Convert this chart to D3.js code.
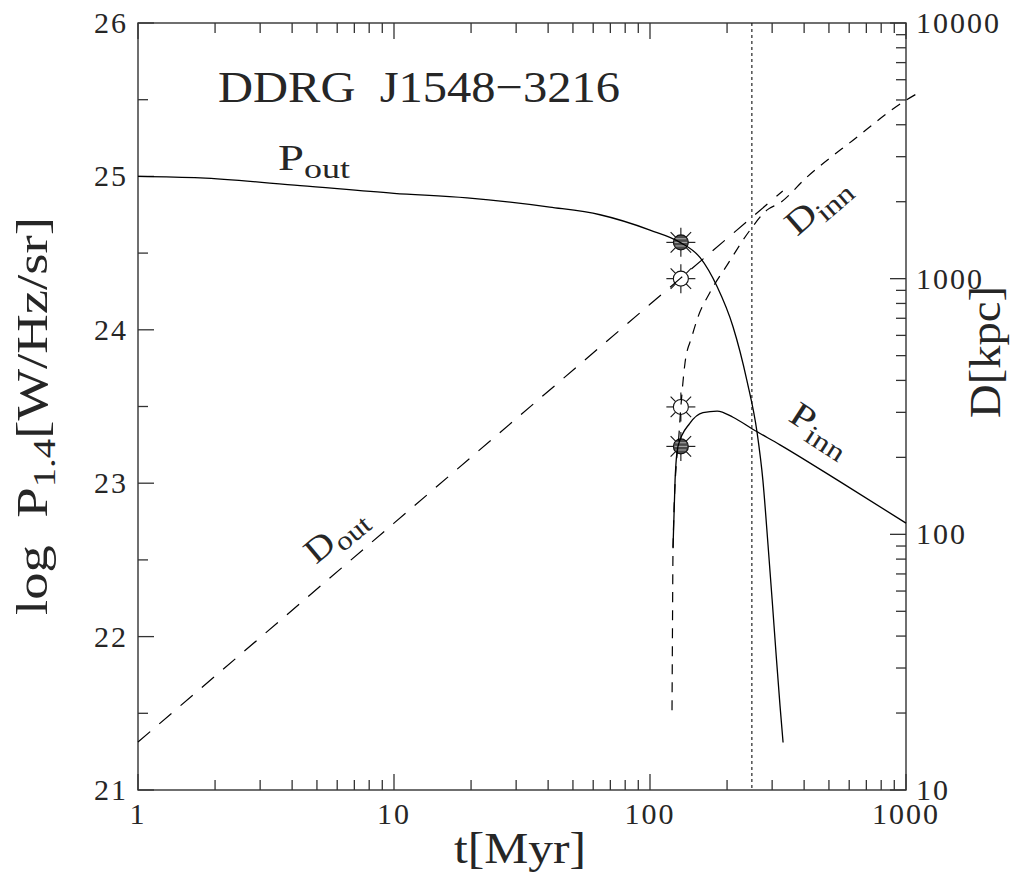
<!DOCTYPE html>
<html>
<head>
<meta charset="utf-8">
<script src="https://cdn.jsdelivr.net/npm/d3@7"></script>
<style>
  body { margin: 0; background: #fff; }
  text { font-family: "Liberation Serif", "Times New Roman", serif; fill: #262626; }
</style>
</head>
<body>
<svg id="chart" width="1013" height="872"></svg>
<script>

// values: t in Myr, P as log P_1.4 [W/Hz/sr], D in kpc
var p_out = [[1,25.0],[1.75,24.99],[4.3,24.94],[10,24.89],[19.3,24.86],[40.6,24.80],[63.8,24.75],
             [100,24.65],[131,24.57],[157,24.47],[183,24.28],[211,24.02],[239,23.67],[262,23.33],
             [276,23.02],[289,22.60],[300,22.24],[311,21.88],[322,21.55],[331,21.31]];

var p_inn = [[123,22.58],[125.3,23.02],[128.6,23.24],[143,23.39],[161,23.46],[183,23.47],
             [211,23.43],[253,23.35],[322,23.25],[552,23.01],[1000,22.74]];

var d_out = [[1,15.4],[10,110.6],[100,794],[131,1000],[330,2204]];

var d_inn = [[121.9,20.5],[122.4,42.3],[123,87],[127,195],[129,227],[132,315],[137,468],
             [145.6,591],[154,708],[171,879],[200,1130],[246,1549],[286,1854],[322,1980],
             [410,2495],[621,3480],[1000,4990],[1114,5320]];

// [t, value, which axis, filled]
var markers = [[132,24.57,'P',true],[132,1000,'D',false],[132,315,'D',false],[132,23.24,'P',true]];

var t_break = 250;

var p_ticks = [21,22,23,24,25,26];
var d_labels = [10,100,1000,10000];
var t_labels = [1,10,100,1000];

var svg = d3.select('#chart');

var margin = {left: 138, right: 906, top: 23, bottom: 790};

var x = d3.scaleLog().domain([1,1000]).range([margin.left, margin.right]);
var y_p = d3.scaleLinear().domain([21,26]).range([margin.bottom, margin.top]);
var y_d = d3.scaleLog().domain([10,10000]).range([margin.bottom, margin.top]);

var is_decade = v => Math.abs(Math.log10(v) - Math.round(Math.log10(v))) < 1e-9;
var major_len = 16, minor_len = 10;
var axis_col = '#333';

// frame
svg.append('rect')
   .attr('x', margin.left).attr('y', margin.top)
   .attr('width', margin.right - margin.left).attr('height', margin.bottom - margin.top)
   .attr('fill', 'none').attr('stroke', axis_col).attr('stroke-width', 1.4);

var ticks = svg.append('g').attr('stroke', axis_col).attr('stroke-width', 1.3);

// bottom + top ticks (time)
x.ticks().forEach(t => {
  var len = is_decade(t) ? major_len : minor_len;
  ticks.append('line').attr('x1', x(t)).attr('x2', x(t))
       .attr('y1', margin.bottom).attr('y2', margin.bottom - len);
  ticks.append('line').attr('x1', x(t)).attr('x2', x(t))
       .attr('y1', margin.top).attr('y2', margin.top + len);
});

// left ticks (power)
d3.range(21, 26.001, 0.5).forEach(p => {
  var len = (p % 1 == 0) ? major_len : minor_len;
  ticks.append('line').attr('x1', margin.left).attr('x2', margin.left + len)
       .attr('y1', y_p(p)).attr('y2', y_p(p));
});

// right ticks (size)
y_d.ticks().forEach(d => {
  var len = is_decade(d) ? major_len : minor_len;
  ticks.append('line').attr('x1', margin.right).attr('x2', margin.right - len)
       .attr('y1', y_d(d)).attr('y2', y_d(d));
});

// tick labels
svg.append('g').selectAll('text').data(t_labels).enter().append('text')
   .attr('x', d => x(d)).attr('y', 824)
   .attr('text-anchor', 'middle').attr('font-size', 30).attr('letter-spacing', 2)
   .text(d => d);

svg.append('g').selectAll('text').data(p_ticks).enter().append('text')
   .attr('x', 128).attr('y', d => y_p(d) + 10)
   .attr('text-anchor', 'end').attr('font-size', 30).attr('letter-spacing', 2)
   .text(d => d);

svg.append('g').selectAll('text').data(d_labels).enter().append('text')
   .attr('x', 916).attr('y', d => y_d(d) + 10)
   .attr('font-size', 30).attr('letter-spacing', 2)
   .text(d => d);

// vertical dotted line
svg.append('line')
   .attr('x1', x(t_break)).attr('x2', x(t_break))
   .attr('y1', margin.top).attr('y2', margin.bottom)
   .attr('stroke', '#111').attr('stroke-width', 1.1).attr('stroke-dasharray', '3,3');

// markers (drawn first, curves go over them)
markers.forEach(m => {
  var cy = (m[2] == 'P') ? y_p(m[1]) : y_d(m[1]);
  var g = svg.append('g').attr('transform', 'translate(' + x(m[0]) + ',' + cy + ')');
  for (var k = 0; k < 8; k++) {
    var a = k * Math.PI / 4;
    g.append('line')
     .attr('x1', 7.5 * Math.cos(a)).attr('y1', 7.5 * Math.sin(a))
     .attr('x2', 14.5 * Math.cos(a)).attr('y2', 14.5 * Math.sin(a))
     .attr('stroke', '#111').attr('stroke-width', 1.1);
  }
  g.append('circle').attr('r', 7.5)
   .attr('fill', m[3] ? '#4a4a4a' : '#fff')
   .attr('stroke', '#111').attr('stroke-width', 1.1);
  if (m[3]) {
    [-3.6, 0, 3.6].forEach(dy => {
      var hw = Math.sqrt(7.5 * 7.5 - dy * dy) - 1.2;
      g.append('line').attr('x1', -hw).attr('x2', hw).attr('y1', dy).attr('y2', dy)
       .attr('stroke', '#b0b0b0').attr('stroke-width', 1);
    });
  }
});

// curves
var line_p = d3.line().x(d => x(d[0])).y(d => y_p(d[1])).curve(d3.curveMonotoneX);
var line_d = d3.line().x(d => x(d[0])).y(d => y_d(d[1])).curve(d3.curveMonotoneX);

svg.append('path').datum(p_out).attr('d', line_p)
   .attr('fill', 'none').attr('stroke', '#000').attr('stroke-width', 1.3);
svg.append('path').datum(p_inn).attr('d', line_p)
   .attr('fill', 'none').attr('stroke', '#000').attr('stroke-width', 1.3);
svg.append('path').datum(d_out).attr('d', line_d.curve(d3.curveLinear))
   .attr('fill', 'none').attr('stroke', '#000').attr('stroke-width', 1.2)
   .attr('stroke-dasharray', '16,12');
svg.append('path').datum(d_inn).attr('d', line_d.curve(d3.curveMonotoneX))
   .attr('fill', 'none').attr('stroke', '#000').attr('stroke-width', 1.2)
   .attr('stroke-dasharray', '10,8');

// in-plot labels
svg.append('text').attr('x', 218).attr('y', 102)
   .attr('font-size', 45).attr('textLength', 402).attr('lengthAdjust', 'spacingAndGlyphs')
   .text('DDRG\u00a0\u00a0J1548\u22123216');

function sub_label(main, sub, tx, ty, angle, len)
{
  var t = svg.append('text')
     .attr('transform', 'translate(' + tx + ',' + ty + ') rotate(' + angle + ')')
     .attr('font-size', 35).attr('textLength', len).attr('lengthAdjust', 'spacingAndGlyphs');
  t.append('tspan').text(main);
  t.append('tspan').attr('font-size', 27).attr('dy', 8).text(sub);
}

sub_label('P', 'out', 278, 170, 0, 72);
sub_label('D', 'inn', 797, 237, -41, 72);
sub_label('P', 'inn', 787, 420, 33, 66);
sub_label('D', 'out', 316, 565, -40, 68);

// axis titles
svg.append('text').attr('x', 520).attr('y', 863).attr('text-anchor', 'middle')
   .attr('font-size', 45).attr('textLength', 132).attr('lengthAdjust', 'spacingAndGlyphs')
   .text('t[Myr]');

var ylab = svg.append('text').attr('transform', 'translate(47,416) rotate(-90)')
   .attr('text-anchor', 'middle').attr('font-size', 45)
   .attr('textLength', 398).attr('lengthAdjust', 'spacingAndGlyphs');
ylab.append('tspan').text('log\u00a0\u00a0P');
ylab.append('tspan').attr('font-size', 32).attr('dy', 8).text('1.4');
ylab.append('tspan').attr('dy', -8).text('[W/Hz/sr]');

svg.append('text').attr('transform', 'translate(1000,352) rotate(-90)')
   .attr('text-anchor', 'middle').attr('font-size', 45)
   .attr('textLength', 132).attr('lengthAdjust', 'spacingAndGlyphs')
   .text('D[kpc]');

</script>
</body>
</html>
